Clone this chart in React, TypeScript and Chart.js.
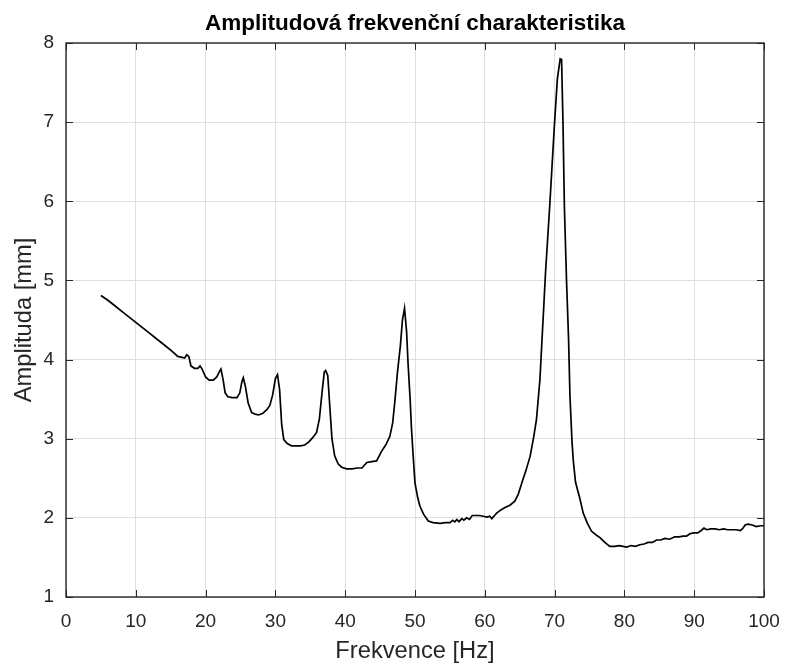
import React, { useEffect, useRef } from "react";
import { Chart, registerables } from "chart.js";

Chart.register(...registerables);

const TITLE = "Amplitudová frekvenční charakteristika";
const X_LABEL = "Frekvence [Hz]";
const Y_LABEL = "Amplituda [mm]";

const xTicks = [0, 10, 20, 30, 40, 50, 60, 70, 80, 90, 100];
const yTicks = [1, 2, 3, 4, 5, 6, 7, 8];

const freq = [
  5.0, 6, 7, 8, 9, 10, 11, 12, 13, 14, 15, 15.5, 16.0, 16.5, 17.0, 17.3, 17.6, 17.9, 18.4, 18.9,
  19.2, 19.5, 20.0, 20.5, 21.1, 21.6, 22.0, 22.2, 22.5, 22.8, 23.2, 23.8, 24.5, 24.9, 25.2, 25.4,
  25.7, 26.1, 26.6, 27.1, 27.6, 28.2, 28.8, 29.2, 29.6, 30.0, 30.3, 30.6, 30.9, 31.2, 31.7, 32.3,
  33.0, 33.6, 34.2, 34.8, 35.4, 35.9, 36.3, 36.7, 37.0, 37.2, 37.5, 37.8, 38.1, 38.5, 39.0, 39.5,
  40.2, 41.0, 41.7, 42.4, 43.1, 43.8, 44.5, 45.2, 45.8, 46.4, 46.8, 47.1, 47.5, 47.9, 48.2, 48.5,
  48.8, 49.0, 49.3, 49.5, 49.8, 50.0, 50.4, 50.7, 51.2, 51.9, 52.6, 53.6, 54.4, 55.0, 55.4, 55.7,
  56.0, 56.3, 56.7, 57.0, 57.4, 57.8, 58.2, 58.6, 59.2, 59.8, 60.3, 60.7, 61.0, 61.4, 61.7, 62.3,
  62.9, 63.6, 64.3, 64.8, 65.3, 65.9, 66.5, 67.0, 67.4, 67.9, 68.2, 68.4, 68.7, 69.3, 70.0, 70.4,
  70.8, 71.0, 71.2, 71.4, 71.7, 72.0, 72.2, 72.5, 72.7, 73.0, 73.6, 74.1, 74.7, 75.3, 76.0, 76.5,
  77.2, 77.9, 78.6, 79.3, 80.3, 81.0, 81.6, 82.2, 82.8, 83.4, 84.0, 84.6, 85.2, 85.8, 86.5, 87.2,
  87.8, 88.4, 88.9, 89.4, 89.9, 90.5, 91.0, 91.4, 91.8, 92.4, 93.0, 93.6, 94.2, 94.8, 95.4, 96.0,
  96.6, 96.9, 97.3, 97.7, 98.3, 98.9, 99.5, 100,
];

const amp = [
  4.81, 4.75, 4.68, 4.61, 4.54, 4.47, 4.40, 4.33, 4.26, 4.19, 4.12, 4.08, 4.04, 4.03, 4.02, 4.06, 4.04, 3.92, 3.89, 3.89,
  3.92, 3.88, 3.78, 3.74, 3.74, 3.78, 3.85, 3.88, 3.75, 3.58, 3.53, 3.52, 3.52, 3.58, 3.72, 3.77,
  3.66, 3.45, 3.33, 3.31, 3.30, 3.32, 3.37, 3.42, 3.55, 3.76, 3.81, 3.62, 3.18, 2.99, 2.94, 2.91,
  2.91, 2.91, 2.92, 2.96, 3.02, 3.08, 3.25, 3.60, 3.84, 3.86, 3.80, 3.40, 3.00, 2.78, 2.68, 2.64,
  2.62, 2.62, 2.63, 2.63, 2.70, 2.71, 2.72, 2.84, 2.92, 3.03, 3.20, 3.46, 3.85, 4.17, 4.50, 4.65,
  4.35, 3.96, 3.50, 3.12, 2.70, 2.44, 2.25, 2.15, 2.05, 1.96, 1.94, 1.93, 1.94, 1.94, 1.97, 1.95,
  1.98, 1.95, 1.99, 1.97, 2.00, 1.98, 2.03, 2.03, 2.03, 2.02, 2.01, 2.02, 1.99, 2.03, 2.06, 2.10,
  2.13, 2.16, 2.21, 2.30, 2.44, 2.60, 2.78, 3.02, 3.24, 3.75, 4.26, 4.59, 5.10, 5.94, 7.00, 7.55,
  7.80, 7.79, 7.00, 5.94, 5.02, 4.26, 3.54, 2.95, 2.70, 2.45, 2.25, 2.06, 1.93, 1.83, 1.78, 1.75,
  1.69, 1.64, 1.64, 1.65, 1.63, 1.65, 1.64, 1.66, 1.67, 1.69, 1.69, 1.72, 1.72, 1.74, 1.73, 1.76,
  1.76, 1.77, 1.77, 1.80, 1.81, 1.81, 1.84, 1.87, 1.85, 1.86, 1.86, 1.85, 1.86, 1.85, 1.85, 1.85,
  1.84, 1.86, 1.91, 1.92, 1.91, 1.89, 1.90, 1.90,
];

const FONT = "'Liberation Sans', Arial, Helvetica, sans-serif";
const AXIS_COLOR = "#262626";
const GRID_COLOR = "#dfdfdf";

const boxPlugin = {
  id: "matlabBox",
  afterDatasetsDraw(chart: any) {
    const { ctx, chartArea: a, scales } = chart;
    const xs = scales.x;
    const ys = scales.y;
    const L = 7;
    ctx.save();
    ctx.strokeStyle = AXIS_COLOR;
    ctx.lineWidth = 1;
    ctx.beginPath();
    xs.ticks.forEach((_t: any, i: number) => {
      const px = Math.round(xs.getPixelForTick(i)) + 0.5;
      ctx.moveTo(px, a.bottom);
      ctx.lineTo(px, a.bottom - L);
      ctx.moveTo(px, a.top);
      ctx.lineTo(px, a.top + L);
    });
    ys.ticks.forEach((_t: any, i: number) => {
      const py = Math.round(ys.getPixelForTick(i)) + 0.5;
      ctx.moveTo(a.left, py);
      ctx.lineTo(a.left + L, py);
      ctx.moveTo(a.right, py);
      ctx.lineTo(a.right - L, py);
    });
    ctx.stroke();
    ctx.lineWidth = 1.4;
    ctx.strokeRect(a.left, a.top, a.right - a.left, a.bottom - a.top);
    ctx.restore();
  },
};

export default function App() {
  const ref = useRef<HTMLCanvasElement | null>(null);

  useEffect(() => {
    if (!ref.current) return;
    const data = freq.map((f, i) => ({ x: f, y: amp[i] }));
    const chart = new Chart(ref.current, {
      type: "line",
      data: {
        datasets: [
          {
            data,
            borderColor: "#000000",
            borderWidth: 1.7,
            pointRadius: 0,
            tension: 0,
            fill: false,
          },
        ],
      },
      options: {
        responsive: false,
        animation: false,
        devicePixelRatio: 1,
        layout: { padding: { top: 0, right: 22, bottom: 0, left: 0 } },
        plugins: {
          legend: { display: false },
          tooltip: { enabled: false },
          title: {
            display: true,
            text: TITLE,
            fullSize: false,
            color: "#000000",
            font: { family: FONT, size: 22.5, weight: "bold", lineHeight: 1.2 },
            padding: { top: 10, bottom: 6 },
          },
        },
        scales: {
          x: {
            type: "linear",
            min: 0,
            max: 100,
            afterBuildTicks: (s: any) => {
              s.ticks = xTicks.map((v) => ({ value: v }));
            },
            afterFit: (s: any) => {
              s.height = 67;
              s.paddingLeft = 0;
              s.paddingRight = 0;
            },
            grid: { color: GRID_COLOR, drawTicks: false, lineWidth: 1 },
            border: { display: false },
            ticks: {
              color: AXIS_COLOR,
              font: { family: FONT, size: 19 },
              padding: 13,
              maxRotation: 0,
              autoSkip: false,
            },
            title: {
              display: true,
              text: X_LABEL,
              color: AXIS_COLOR,
              font: { family: FONT, size: 23.7, lineHeight: 1 },
              padding: { top: 0, bottom: 0.5 },
            },
          },
          y: {
            type: "linear",
            min: 1,
            max: 8,
            afterBuildTicks: (s: any) => {
              s.ticks = yTicks.map((v) => ({ value: v }));
            },
            afterFit: (s: any) => {
              s.width = 66;
              s.paddingTop = 0;
              s.paddingBottom = 0;
            },
            grid: { color: GRID_COLOR, drawTicks: false, lineWidth: 1 },
            border: { display: false },
            ticks: {
              color: AXIS_COLOR,
              font: { family: FONT, size: 19 },
              padding: 12,
              autoSkip: false,
            },
            title: {
              display: true,
              text: Y_LABEL,
              color: AXIS_COLOR,
              font: { family: FONT, size: 23.7, lineHeight: 1.2 },
              padding: { top: 10.5, bottom: 0 },
            },
          },
        },
      },
      plugins: [boxPlugin],
    });
    return () => chart.destroy();
  }, []);

  return (
    <div style={{ position: "absolute", left: 0, top: 0, width: 786, height: 664, background: "#ffffff" }}>
      <canvas ref={ref} width={786} height={664} />
    </div>
  );
}
